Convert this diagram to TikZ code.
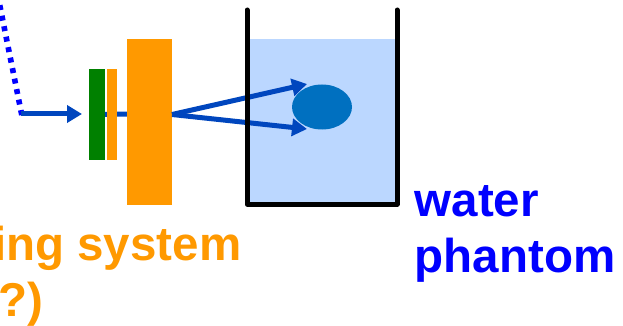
\documentclass[tikz,border=0pt]{standalone}
\usepackage{fontspec}
\setmainfont{Liberation Sans}
\usetikzlibrary{arrows.meta,shapes.geometric}
\definecolor{beamblue}{HTML}{0046BE}
\definecolor{dotblue}{HTML}{0000FF}
\definecolor{scatorange}{HTML}{FF9900}
\definecolor{foilgreen}{HTML}{008000}
\definecolor{waterblue}{HTML}{BBD7FF}
\definecolor{targetblue}{HTML}{0070C0}
\tikzset{
    plate/.style={rectangle,inner sep=0pt,outer sep=0pt,minimum width=#1},
    beam/.style={beamblue,line width=5pt,-{Triangle[length=15pt,width=17pt]}},
    bigtext/.style={font=\fontsize{47.5pt}{47.5pt}\selectfont\bfseries,inner sep=0pt,text height=0pt,text depth=0pt}
}
\begin{document}
\begin{tikzpicture}[x=1pt,y=-1pt]
    \useasboundingbox (0,0) rectangle (623,326);
    \coordinate (source) at (-1.3,0);
    \coordinate (bend) at (21.8,115);
    \coordinate (bendend) at (21,114);
    \node[plate=146pt,minimum height=164pt,fill=waterblue] (water) at (322,121) {};
    \draw[dotblue,line width=5.6pt,dash pattern=on 5pt off 5.7pt] (bend) -- (source);
    \node[plate=16pt,minimum height=91pt,fill=foilgreen] (foil) at (97,114.5) {};
    \draw[beamblue,line width=5pt] (foil.east) -- (127,114);
    \node[plate=10pt,minimum height=91pt,fill=scatorange] (scatthin) at (112,114.5) {};
    \node[plate=45pt,minimum height=166pt,fill=scatorange] (scatter) at (149.5,122) {};
    \node[ellipse,inner sep=0pt,minimum width=60pt,minimum height=45pt,fill=targetblue] (target) at (322,107) {};
    \draw[beam] (bendend) -- (82,114);
    \draw[beam] (scatter.east |- foil) -- (307,84);
    \draw[beam] (scatter.east |- foil) -- (307,129);
    \draw[black,line width=5pt,line cap=round,line join=round] (247,10) -- (247,204) -- (397,204) -- (397,10);
    \node[bigtext,scatorange,anchor=base east] (scatlabel) at (241.5,260) {ing system};
    \node[bigtext,scatorange,anchor=base east] (scatlabelb) at (44,316) {?)};
    \node[bigtext,dotblue,anchor=base west] (waterlabel) at (414.5,216) {water};
    \node[bigtext,dotblue,anchor=base west] (phantomlabel) at (414.5,272) {phantom};
\end{tikzpicture}
\end{document}
